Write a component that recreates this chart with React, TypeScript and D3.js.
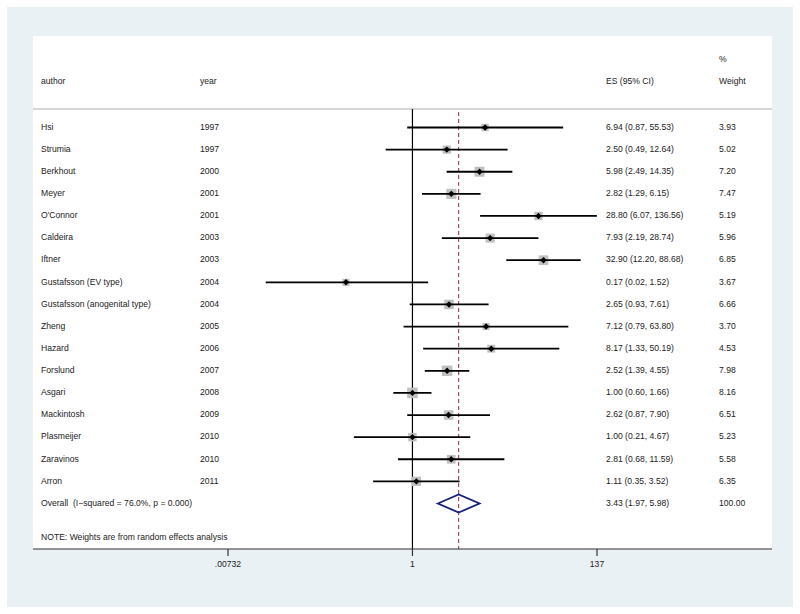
import React from "react";
import * as d3 from "d3";

const authors = ["Hsi","Strumia","Berkhout","Meyer","O'Connor","Caldeira","Iftner","Gustafsson (EV type)","Gustafsson (anogenital type)","Zheng","Hazard","Forslund","Asgari","Mackintosh","Plasmeijer","Zaravinos","Arron"];
const years = ["1997","1997","2000","2001","2001","2003","2003","2004","2004","2005","2006","2007","2008","2009","2010","2010","2011"];
const es = [6.94,2.50,5.98,2.82,28.80,7.93,32.90,0.17,2.65,7.12,8.17,2.52,1.00,2.62,1.00,2.81,1.11];
const lo = [0.87,0.49,2.49,1.29,6.07,2.19,12.20,0.02,0.93,0.79,1.33,1.39,0.60,0.87,0.21,0.68,0.35];
const hi = [55.53,12.64,14.35,6.15,136.56,28.74,88.68,1.52,7.61,63.80,50.19,4.55,1.66,7.90,4.67,11.59,3.52];
const weights = [3.93,5.02,7.20,7.47,5.19,5.96,6.85,3.67,6.66,3.70,4.53,7.98,8.16,6.51,5.23,5.58,6.35];
const overall = { es: 3.43, lo: 1.97, hi: 5.98, weight: "100.00", label: "Overall  (I\u2212squared = 76.0%, p = 0.000)" };
const tickValues = [0.00732, 1, 137];
const tickLabels = [".00732", "1", "137"];

const font = "'Liberation Sans', Arial, Helvetica, sans-serif";

export default function App() {
  const x = d3.scaleLog().domain([0.00732, 137]).range([228, 597]);
  const rowY = d3.scaleLinear().domain([0, 17]).range([127.5, 503.5]);
  const top = 109, axisY = 549;
  const fmt = (v: number) => v.toFixed(2);
  const txt = { fontFamily: font, fontSize: 8.6, fill: "#222", style: { whiteSpace: "pre" as const } };

  return (
    <svg width={800} height={614} style={{ position: "absolute", left: 0, top: 0 }}>
      <rect x={0} y={0} width={800} height={614} fill="#fff" />
      <rect x={7} y={7} width={786} height={600} fill="#eaf1f4" />
      <rect x={33} y={36} width={739} height={axisY - 36} fill="#fff" />
      <line x1={33} x2={772} y1={top} y2={top} stroke="#c8c8c8" strokeWidth={1.5} />
      {/* headers */}
      <text x={41} y={82} {...txt} dominantBaseline="middle">author</text>
      <text x={200} y={82} {...txt} dominantBaseline="middle">year</text>
      <text x={606} y={82} {...txt} dominantBaseline="middle">ES (95% CI)</text>
      <text x={719} y={60} {...txt} dominantBaseline="middle">%</text>
      <text x={719} y={82} {...txt} dominantBaseline="middle">Weight</text>
      {/* reference lines */}
      <line x1={x(1)} x2={x(1)} y1={top} y2={axisY} stroke="#000" strokeWidth={1.2} />
      <line x1={x(overall.es)} x2={x(overall.es)} y1={top + 3} y2={axisY} stroke="#8b2e44" strokeWidth={1} strokeDasharray="4,3" />
      {authors.map((a, i) => {
        const y = rowY(i);
        const s = 3.7 * Math.sqrt(weights[i]);
        const cx = x(es[i]);
        return (
          <g key={i}>
            <text x={41} y={y} {...txt} dominantBaseline="middle">{a}</text>
            <text x={200} y={y} {...txt} dominantBaseline="middle">{years[i]}</text>
            <text x={606} y={y} {...txt} dominantBaseline="middle">{`${fmt(es[i])} (${fmt(lo[i])}, ${fmt(hi[i])})`}</text>
            <text x={719} y={y} {...txt} dominantBaseline="middle">{fmt(weights[i])}</text>
            <rect x={cx - s / 2} y={y - s / 2} width={s} height={s} fill="#c0c0c0" />
            <line x1={x(lo[i])} x2={x(hi[i])} y1={y} y2={y} stroke="#000" strokeWidth={1.8} />
            <path d={`M${cx - 3.2},${y} L${cx},${y - 3.2} L${cx + 3.2},${y} L${cx},${y + 3.2} Z`} fill="#000" />
          </g>
        );
      })}
      {(() => {
        const y = rowY(17);
        return (
          <g>
            <text x={41} y={y} {...txt} dominantBaseline="middle">{overall.label}</text>
            <text x={606} y={y} {...txt} dominantBaseline="middle">{`${fmt(overall.es)} (${fmt(overall.lo)}, ${fmt(overall.hi)})`}</text>
            <text x={719} y={y} {...txt} dominantBaseline="middle">{overall.weight}</text>
            <path d={`M${x(overall.lo)},${y} L${x(overall.es)},${y - 9} L${x(overall.hi)},${y} L${x(overall.es)},${y + 9} Z`} fill="none" stroke="#15207a" strokeWidth={1.8} />
          </g>
        );
      })()}
      <text x={41} y={538} {...txt} dominantBaseline="middle">NOTE: Weights are from random effects analysis</text>
      {/* axis */}
      <line x1={33} x2={772} y1={axisY} y2={axisY} stroke="#333" strokeWidth={1.2} />
      {tickValues.map((t, i) => (
        <g key={t}>
          <line x1={x(t)} x2={x(t)} y1={axisY} y2={axisY + 7} stroke="#333" strokeWidth={1.2} />
          <text x={x(t)} y={565} {...txt} textAnchor="middle" dominantBaseline="middle">{tickLabels[i]}</text>
        </g>
      ))}
    </svg>
  );
}
